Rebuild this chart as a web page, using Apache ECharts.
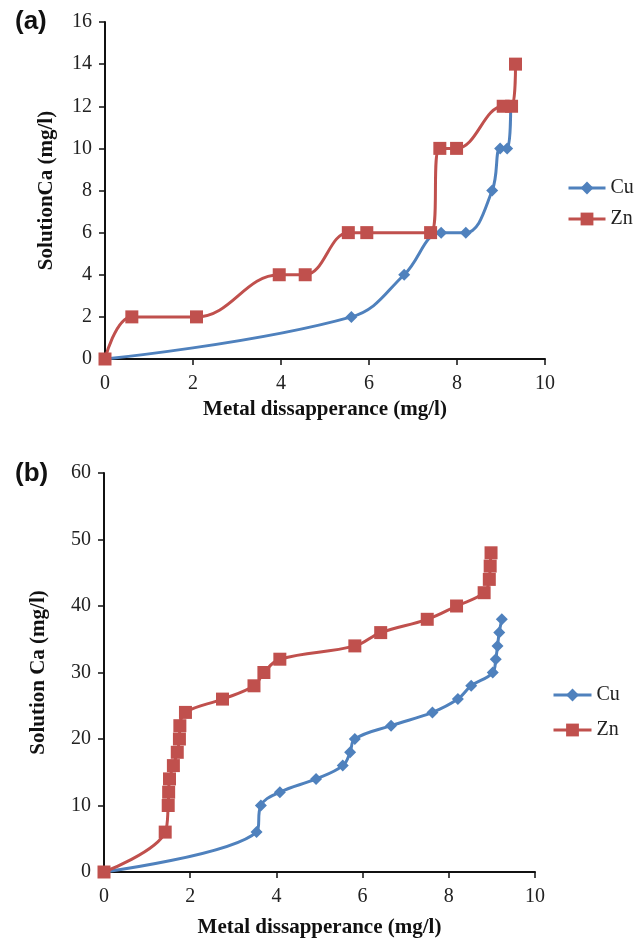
<!DOCTYPE html>
<html>
<head>
<meta charset="utf-8">
<script src="https://cdn.jsdelivr.net/npm/echarts@6/dist/echarts.min.js"></script>
<style>
  html, body { margin: 0; padding: 0; background: #fff; }
  #chart { width: 644px; height: 942px; }
</style>
</head>
<body>
<div id="chart"></div>
<script>
// panel (a)
const cuA = [[0, 0], [5.6, 2], [6.8, 4], [7.64, 6], [8.2, 6], [8.8, 8], [8.98, 10], [9.14, 10], [9.22, 12]]
const znA = [[0, 0], [0.61, 2], [2.08, 2], [3.96, 4], [4.55, 4], [5.53, 6], [5.95, 6], [7.4, 6], [7.61, 10], [7.99, 10], [9.05, 12], [9.24, 12], [9.33, 14]]
// panel (b)
const cuB = [[0, 0], [3.54, 6], [3.64, 10], [4.08, 12], [4.92, 14], [5.54, 16], [5.71, 18], [5.82, 20], [6.66, 22], [7.62, 24], [8.21, 26], [8.52, 28], [9.02, 30], [9.09, 32], [9.13, 34], [9.17, 36], [9.23, 38]]
const znB = [[0, 0], [1.42, 6], [1.49, 10], [1.5, 12], [1.52, 14], [1.61, 16], [1.7, 18], [1.75, 20], [1.76, 22], [1.89, 24], [2.75, 26], [3.48, 28], [3.71, 30], [4.08, 32], [5.82, 34], [6.42, 36], [7.5, 38], [8.18, 40], [8.82, 42], [8.94, 44], [8.96, 46], [8.98, 48]]

const xTitle = 'Metal dissapperance (mg/l)'
const yTitleA = 'SolutionCa (mg/l)'
const yTitleB = 'Solution Ca (mg/l)'

const BLUE = '#4f81bd'
const RED = '#c0504d'
const serif = 'Liberation Serif'

function xAxis(gridIndex, gap) {
    return {
        type: 'value', gridIndex, min: 0, max: 10, interval: 2,
        name: xTitle, nameLocation: 'middle', nameGap: gap,
        nameTextStyle: { fontFamily: serif, fontSize: 21, fontWeight: 'bold', color: '#111' },
        axisLine: { lineStyle: { color: '#111', width: 2 } },
        axisTick: { length: 6, lineStyle: { color: '#111', width: 1.5 } },
        axisLabel: { fontFamily: serif, fontSize: 20, color: '#222', margin: 15 },
        splitLine: { show: false }
    }
}

function yAxis(gridIndex, max, interval, name, gap) {
    return {
        type: 'value', gridIndex, min: 0, max, interval,
        name, nameLocation: 'middle', nameGap: gap,
        nameTextStyle: { fontFamily: serif, fontSize: 21, fontWeight: 'bold', color: '#111' },
        axisLine: { show: true, lineStyle: { color: '#111', width: 2 } },
        axisTick: { show: true, length: 6, lineStyle: { color: '#111', width: 1.5 } },
        axisLabel: { fontFamily: serif, fontSize: 20, color: '#222', margin: 13 },
        splitLine: { show: false }
    }
}

function series(name, data, idx, color, symbol, size) {
    return {
        name, type: 'line', data, xAxisIndex: idx, yAxisIndex: idx,
        smooth: 0.4, symbol, symbolSize: size,
        lineStyle: { color, width: 3 },
        itemStyle: { color },
        z: name.trim() === 'Zn' ? 3 : 2
    }
}

const chart = echarts.init(document.getElementById('chart'))
chart.setOption({
    animation: false,
    backgroundColor: '#fff',
    title: [
        { text: '(a)', left: 10, top: 4, textStyle: { fontFamily: 'Liberation Sans', fontSize: 26, fontWeight: 'bold', color: '#111' } },
        { text: '(b)', left: 10, top: 456, textStyle: { fontFamily: 'Liberation Sans', fontSize: 26, fontWeight: 'bold', color: '#111' } }
    ],
    legend: [
        {
            data: ['Cu', 'Zn'],
            orient: 'vertical', left: 562, top: 173, itemGap: 11, itemWidth: 37, itemHeight: 16,
            lineStyle: { width: 3 },
            textStyle: { fontFamily: serif, fontSize: 20, color: '#222' }
        },
        {
            data: ['Cu ', 'Zn '],
            orient: 'vertical', left: 547, top: 680, itemGap: 15, itemWidth: 38, itemHeight: 16,
            lineStyle: { width: 3 },
            textStyle: { fontFamily: serif, fontSize: 20, color: '#222' },
            formatter: n => n.trim()
        }
    ],
    grid: [
        { left: 105, top: 22, width: 440, height: 337 },
        { left: 104, top: 473, width: 431, height: 399 }
    ],
    xAxis: [xAxis(0, 40), xAxis(1, 45)],
    yAxis: [yAxis(0, 16, 2, yTitleA, 48), yAxis(1, 60, 10, yTitleB, 55)],
    series: [
        series('Cu', cuA, 0, BLUE, 'diamond', 12),
        series('Zn', znA, 0, RED, 'rect', 13),
        series('Cu ', cuB, 1, BLUE, 'diamond', 12),
        series('Zn ', znB, 1, RED, 'rect', 13)
    ]
})
</script>
</body>
</html>
